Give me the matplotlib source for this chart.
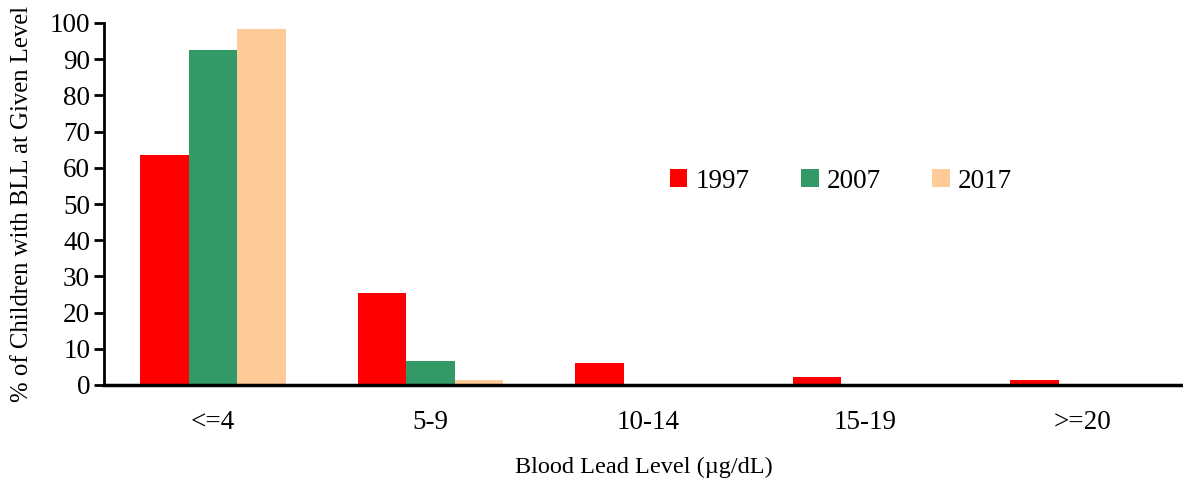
import matplotlib.pyplot as plt
import numpy as np

plt.rcParams['font.family'] = ['Liberation Serif', 'DejaVu Serif']

# data
categories = ['<=4', '5-9', '10-14', '15-19', '>=20']
years = ['1997', '2007', '2017']
vals_1997 = [63.5, 25.3, 6.2, 2.3, 1.5]
vals_2007 = [92.6, 6.5, 0.3, 0.0, 0.0]
vals_2017 = [98.3, 1.4, 0.0, 0.0, 0.0]
colors = ['#FF0000', '#339966', '#FFCC99']

fig = plt.figure(figsize=(11.83, 4.8), dpi=100)
ax = fig.add_axes([104 / 1183, 1 - 385 / 480, 1 - 104 / 1183, (385 - 23) / 480])

x = np.arange(len(categories))
w = 0.223
for i, (vals, yr) in enumerate(zip([vals_1997, vals_2007, vals_2017], years)):
    ax.bar(x + (i - 1) * w, vals, width=w, color=colors[i], label=yr)

ax.set_xlim(-0.5, 4.46)
ax.set_ylim(0, 100)
ax.set_yticks(range(0, 101, 10))
ax.set_xticks(x)
ax.set_xticklabels(categories)

for s in ['top', 'right']:
    ax.spines[s].set_visible(False)
ax.spines['left'].set_linewidth(2)
ax.spines['bottom'].set_linewidth(2.5)
ax.tick_params(axis='y', length=7, width=2, labelsize=19.5, pad=3)
ax.tick_params(axis='x', length=0, labelsize=19.5, pad=18)

ax.set_ylabel('% of Children with BLL at Given Level', fontsize=17.8)
ax.set_xlabel('Blood Lead Level (µg/dL)', fontsize=17.5, labelpad=16)
ax.yaxis.set_label_coords(-0.066, 0.5)

ax.legend(loc='center', bbox_to_anchor=(0.683, 1 - (181 - 23) / 362),
          ncol=3, frameon=False, fontsize=19.5, handlelength=0.65, handleheight=0.65,
          columnspacing=1.9, handletextpad=0.3)

fig.savefig('out.png', dpi=100)
